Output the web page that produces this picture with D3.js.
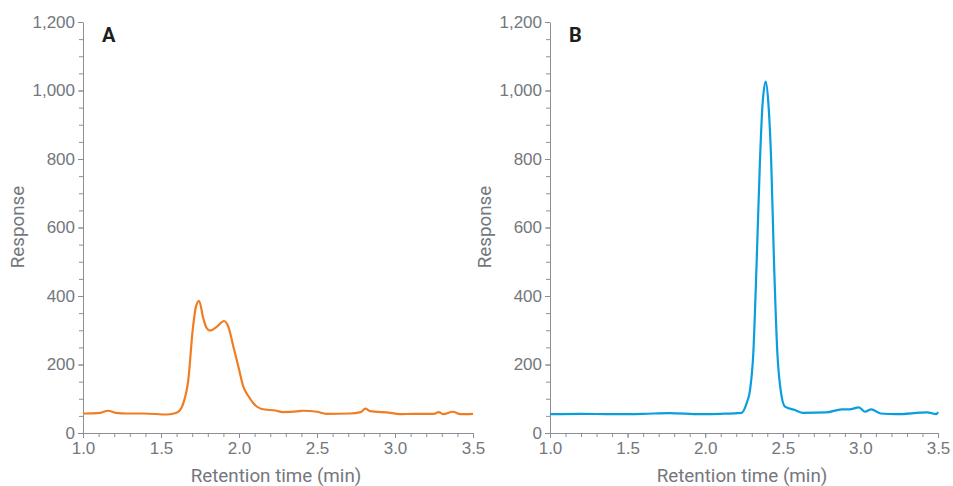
<!DOCTYPE html>
<html>
<head>
<meta charset="utf-8">
<script src="https://cdn.jsdelivr.net/npm/d3@7"></script>
<style>
  body { margin: 0; background: #fff; }
  svg { font-family: Roboto, "Open Sans", sans-serif; }
  .axis path, .axis line { stroke: #8c9096; }
  .axis text { fill: #73777d; font-size: 17px; }
</style>
</head>
<body>
<svg id="chart" width="953" height="486"></svg>
<script>
// retention time (min) and response
var timeA = [1.0, 1.11, 1.16, 1.21, 1.28, 1.39, 1.54, 1.60, 1.63, 1.643, 1.675, 1.703, 1.724, 1.744, 1.771, 1.793, 1.814, 1.857, 1.904, 1.932, 1.964, 1.996, 2.028, 2.06, 2.092, 2.145, 2.24, 2.28, 2.39, 2.41, 2.50, 2.56, 2.71, 2.78, 2.81, 2.84, 2.97, 3.03, 3.12, 3.25, 3.28, 3.31, 3.37, 3.42, 3.5];
var respA = [57, 59, 65, 59, 57, 57, 54, 59, 72, 87, 155, 300, 369, 386, 335, 306, 299, 310, 327, 310, 252, 194, 135, 108, 87, 70, 65, 61, 64, 65, 62, 56, 57, 61, 71, 64, 59, 55, 56, 56, 61, 55, 62, 55, 56];

var timeB = [1.0, 1.2, 1.4, 1.6, 1.77, 1.97, 2.1, 2.235, 2.267, 2.289, 2.31, 2.332, 2.353, 2.37, 2.39, 2.407, 2.425, 2.443, 2.465, 2.486, 2.514, 2.579, 2.63, 2.78, 2.88, 2.93, 2.99, 3.03, 3.07, 3.13, 3.23, 3.43, 3.49, 3.5];
var respB = [55, 56, 55, 56, 58, 55, 56, 59, 87, 126, 233, 505, 797, 963, 1026, 963, 797, 505, 233, 126, 77, 67, 59, 60, 69, 69, 75, 62, 69, 57, 55, 60, 55, 61];

var xTicks = [1.0, 1.5, 2.0, 2.5, 3.0, 3.5];
var yTicks = [0, 200, 400, 600, 800, 1000, 1200];

var svg = d3.select("#chart");

var y = d3.scaleLinear().domain([0, 1200]).range([433, 22]);

function drawPanel(times, resp, color, label, x0, x1) {
  var x = d3.scaleLinear().domain([1.0, 3.5]).range([x0, x1]);

  // minor ticks
  svg.append("g")
    .attr("class", "axis")
    .attr("transform", "translate(" + x0 + ",0)")
    .call(d3.axisLeft(y).tickValues(d3.range(0, 1201, 50)).tickSize(4).tickFormat(""))
    .select(".domain").remove();
  svg.append("g")
    .attr("class", "axis")
    .attr("transform", "translate(0,433)")
    .call(d3.axisBottom(x).tickValues(d3.range(10, 36, 1).map(function(d) { return d / 10; })).tickSize(4).tickFormat(""))
    .select(".domain").remove();

  // main axes
  svg.append("g")
    .attr("class", "axis")
    .attr("transform", "translate(" + x0 + ",0)")
    .call(d3.axisLeft(y).tickValues(yTicks).tickSize(5).tickSizeOuter(0).tickPadding(3).tickFormat(d3.format(",")));
  svg.append("g")
    .attr("class", "axis")
    .attr("transform", "translate(0,433)")
    .call(d3.axisBottom(x).tickValues(xTicks).tickSize(5).tickSizeOuter(0).tickPadding(4).tickFormat(d3.format(".1f")));

  var line = d3.line()
    .x(function(d, i) { return x(times[i]); })
    .y(function(d) { return y(d); })
    .curve(d3.curveMonotoneX);

  svg.append("path")
    .datum(resp)
    .attr("d", line)
    .attr("fill", "none")
    .attr("stroke", color)
    .attr("stroke-width", 2.2);

  svg.append("text")
    .attr("x", x0 + 19)
    .attr("y", 42)
    .attr("font-size", 20)
    .attr("font-weight", "bold")
    .attr("fill", "#1e1e1e")
    .text(label);

  svg.append("text")
    .attr("transform", "translate(" + (x0 - 59) + ",227) rotate(-90)")
    .attr("text-anchor", "middle")
    .attr("font-size", 18.8)
    .attr("fill", "#73777d")
    .text("Response");

  svg.append("text")
    .attr("x", (x0 + x1) / 2 - 2)
    .attr("y", 482)
    .attr("text-anchor", "middle")
    .attr("font-size", 18.8)
    .attr("fill", "#73777d")
    .text("Retention time (min)");
}

drawPanel(timeA, respA, "#f07d21", "A", 83, 473);
drawPanel(timeB, respB, "#0a9de0", "B", 550, 938);
</script>
</body>
</html>
